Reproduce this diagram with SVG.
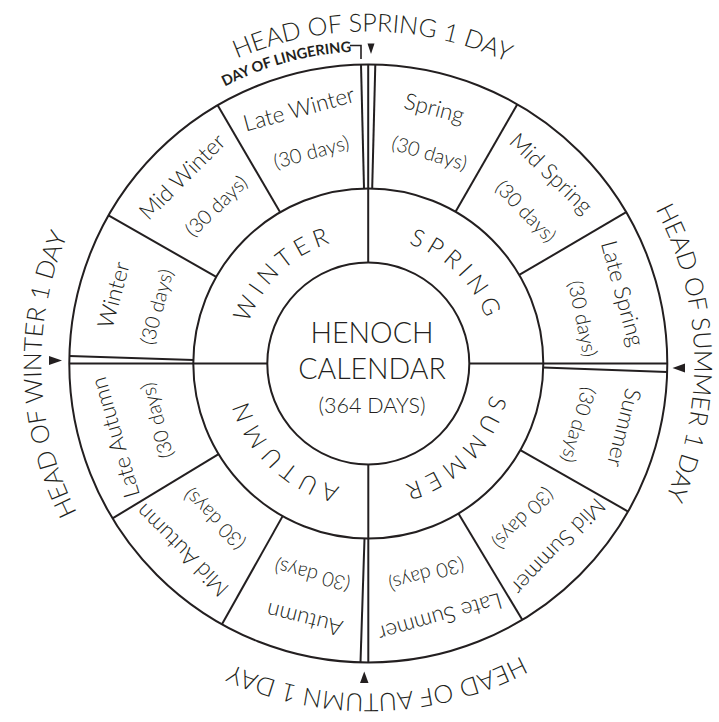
<svg xmlns="http://www.w3.org/2000/svg" width="719" height="722" viewBox="0 0 719 722">
<style>
.ln{stroke:#231f20;stroke-width:2;fill:none}
.tn{stroke:#231f20;stroke-width:1.6;fill:none}
.tx{font-family:Lato,"Open Sans","Liberation Sans",sans-serif;fill:#231f20;font-weight:300}
.mn{font-size:22.5px}
.dy{font-size:20px}
.sn{font-size:24px;letter-spacing:5.5px}
.hd{font-size:25px}
.dl{font-size:14.5px;font-weight:700}
.ct{font-size:28.5px}
.sm{font-size:21.5px}
.ar{fill:#231f20}
</style>
<defs>
<path id="pSpring" d="M295.68 260.17 A126.3 126.3 0 0 1 471.89 435.76"/>
<path id="pSummer" d="M471.63 290.88 A126.3 126.3 0 0 1 296.04 467.09"/>
<path id="pAutumn" d="M442.36 465.80 A126.3 126.3 0 0 1 263.71 292.70"/>
<path id="pWinter" d="M262.74 432.84 A126.3 126.3 0 0 1 443.78 262.23"/>
<path id="hTop" d="M42.14 301.58 A332 332 0 0 1 695.98 310.15"/>
<path id="hRight" d="M413.68 40.66 A326 326 0 0 1 436.08 682.36"/>
<path id="hBottom" d="M694.77 411.71 A330 330 0 0 1 45.03 429.86"/>
<path id="hLeft" d="M322.78 687.33 A327 327 0 0 1 300.32 43.66"/>
<path id="pLinger" d="M57.61 392.05 A312 312 0 0 1 650.50 230.40"/>
</defs>
<rect width="719" height="722" fill="#ffffff"/>

<g id="rings">
<circle class="ln" cx="368.3" cy="363.5" r="299"/>
<circle class="ln" cx="368.3" cy="363.5" r="175"/>
<circle class="ln" cx="368.3" cy="363.5" r="101"/>
</g>

<g id="connectors">
<line class="ln" x1="455.54" y1="211.79" x2="517.35" y2="104.30"/>
<line class="ln" x1="519.24" y1="274.95" x2="626.19" y2="212.21"/>
<line class="ln" x1="520.36" y1="450.13" x2="628.10" y2="511.51"/>
<line class="ln" x1="458.43" y1="513.51" x2="522.29" y2="619.80"/>
<line class="ln" x1="282.65" y1="516.12" x2="221.97" y2="624.26"/>
<line class="ln" x1="218.60" y1="454.15" x2="112.54" y2="518.38"/>
<line class="ln" x1="216.24" y1="276.87" x2="108.50" y2="215.49"/>
<line class="ln" x1="280.13" y1="212.33" x2="217.66" y2="105.22"/>
<line class="ln" x1="361" y1="64.6" x2="364" y2="188.5"/>
<line class="ln" x1="368.2" y1="64.5" x2="368.2" y2="262.5"/>
<line class="ln" x1="375.3" y1="64.6" x2="372.2" y2="188.5"/>
<line class="ln" x1="469.3" y1="363.5" x2="667.3" y2="363.5"/>
<line class="ln" x1="543.2" y1="367.5" x2="667.2" y2="372"/>
<line class="ln" x1="368.3" y1="464.5" x2="368.3" y2="662.5"/>
<line class="ln" x1="364.5" y1="538.5" x2="360.5" y2="662.4"/>
<line class="ln" x1="69.3" y1="363.5" x2="267.3" y2="363.5"/>
<line class="ln" x1="69.4" y1="356" x2="193.3" y2="360"/>
<path class="ar" d="M367.5 43.5 L374.5 43.5 L371 54 Z"/>
<path class="ar" d="M685 363.5 L685 372.5 L672.5 368 Z"/>
<path class="ar" d="M360 683 L368.5 683 L364.25 671.5 Z"/>
<path class="ar" d="M49 356 L49 365 L62 360.5 Z"/>
<path class="tn" d="M350 45.5 H361 V59"/>
</g>

<g id="center">
<text class="tx ct" x="372" y="343.3" text-anchor="middle">HENOCH</text>
<text class="tx ct" x="372" y="379.3" text-anchor="middle">CALENDAR</text>
<text class="tx sm" x="372" y="413.3" text-anchor="middle">(364 DAYS)</text>
</g>

<g id="season-spring"><text class="tx sn"><textPath href="#pSpring" startOffset="50%" text-anchor="middle">SPRING</textPath></text></g>
<g id="season-summer"><text class="tx sn"><textPath href="#pSummer" startOffset="50%" text-anchor="middle">SUMMER</textPath></text></g>
<g id="season-autumn"><text class="tx sn"><textPath href="#pAutumn" startOffset="50%" text-anchor="middle">AUTUMN</textPath></text></g>
<g id="season-winter"><text class="tx sn"><textPath href="#pWinter" startOffset="50%" text-anchor="middle">WINTER</textPath></text></g>

<g id="m-spring"><text class="tx mn" x="368.3" y="107.5" text-anchor="middle" transform="rotate(14.5 368.3 363.5)">Spring</text><text class="tx dy" x="368.3" y="151.5" text-anchor="middle" transform="rotate(16.2 368.3 363.5)">(30 days)</text></g>
<g id="m-mid-spring"><text class="tx mn" x="368.3" y="107.5" text-anchor="middle" transform="rotate(43.9 368.3 363.5)">Mid Spring</text><text class="tx dy" x="368.3" y="151.5" text-anchor="middle" transform="rotate(46 368.3 363.5)">(30 days)</text></g>
<g id="m-late-spring"><text class="tx mn" x="368.3" y="107.5" text-anchor="middle" transform="rotate(74.6 368.3 363.5)">Late Spring</text><text class="tx dy" x="368.3" y="151.5" text-anchor="middle" transform="rotate(78.2 368.3 363.5)">(30 days)</text></g>
<g id="m-summer"><text class="tx mn" x="368.3" y="107.5" text-anchor="middle" transform="rotate(104.1 368.3 363.5)">Summer</text><text class="tx dy" x="368.3" y="151.5" text-anchor="middle" transform="rotate(106.3 368.3 363.5)">(30 days)</text></g>
<g id="m-mid-summer"><text class="tx mn" x="368.3" y="107.5" text-anchor="middle" transform="rotate(133.9 368.3 363.5)">Mid Summer</text><text class="tx dy" x="368.3" y="151.5" text-anchor="middle" transform="rotate(135 368.3 363.5)">(30 days)</text></g>
<g id="m-late-summer"><text class="tx mn" x="368.3" y="107.5" text-anchor="middle" transform="rotate(164.2 368.3 363.5)">Late Summer</text><text class="tx dy" x="368.3" y="151.5" text-anchor="middle" transform="rotate(164.6 368.3 363.5)">(30 days)</text></g>
<g id="m-autumn"><text class="tx mn" x="368.3" y="107.5" text-anchor="middle" transform="rotate(194 368.3 363.5)">Autumn</text><text class="tx dy" x="368.3" y="151.5" text-anchor="middle" transform="rotate(194.8 368.3 363.5)">(30 days)</text></g>
<g id="m-mid-autumn"><text class="tx mn" x="368.3" y="107.5" text-anchor="middle" transform="rotate(224.9 368.3 363.5)">Mid Autumn</text><text class="tx dy" x="368.3" y="151.5" text-anchor="middle" transform="rotate(224.7 368.3 363.5)">(30 days)</text></g>
<g id="m-late-autumn"><text class="tx mn" x="368.3" y="107.5" text-anchor="middle" transform="rotate(253.7 368.3 363.5)">Late Autumn</text><text class="tx dy" x="368.3" y="151.5" text-anchor="middle" transform="rotate(254.9 368.3 363.5)">(30 days)</text></g>
<g id="m-winter"><text class="tx mn" x="368.3" y="107.5" text-anchor="middle" transform="rotate(285.1 368.3 363.5)">Winter</text><text class="tx dy" x="368.3" y="151.5" text-anchor="middle" transform="rotate(285 368.3 363.5)">(30 days)</text></g>
<g id="m-mid-winter"><text class="tx mn" x="368.3" y="107.5" text-anchor="middle" transform="rotate(315.1 368.3 363.5)">Mid Winter</text><text class="tx dy" x="368.3" y="151.5" text-anchor="middle" transform="rotate(316 368.3 363.5)">(30 days)</text></g>
<g id="m-late-winter"><text class="tx mn" x="368.3" y="107.5" text-anchor="middle" transform="rotate(344.75 368.3 363.5)">Late Winter</text><text class="tx dy" x="368.3" y="151.5" text-anchor="middle" transform="rotate(344.9 368.3 363.5)">(30 days)</text></g>

<g id="head-spring"><text class="tx hd"><textPath href="#hTop" startOffset="50%" text-anchor="middle">HEAD OF SPRING 1 DAY</textPath></text></g>
<g id="head-summer"><text class="tx hd"><textPath href="#hRight" startOffset="50%" text-anchor="middle">HEAD OF SUMMER 1 DAY</textPath></text></g>
<g id="head-autumn"><text class="tx hd"><textPath href="#hBottom" startOffset="50%" text-anchor="middle">HEAD OF AUTUMN 1 DAY</textPath></text></g>
<g id="head-winter"><text class="tx hd"><textPath href="#hLeft" startOffset="50%" text-anchor="middle">HEAD OF WINTER 1 DAY</textPath></text></g>
<g id="day-of-lingering"><text class="tx dl"><textPath href="#pLinger" startOffset="50%" text-anchor="middle">DAY OF LINGERING</textPath></text></g>
</svg>
